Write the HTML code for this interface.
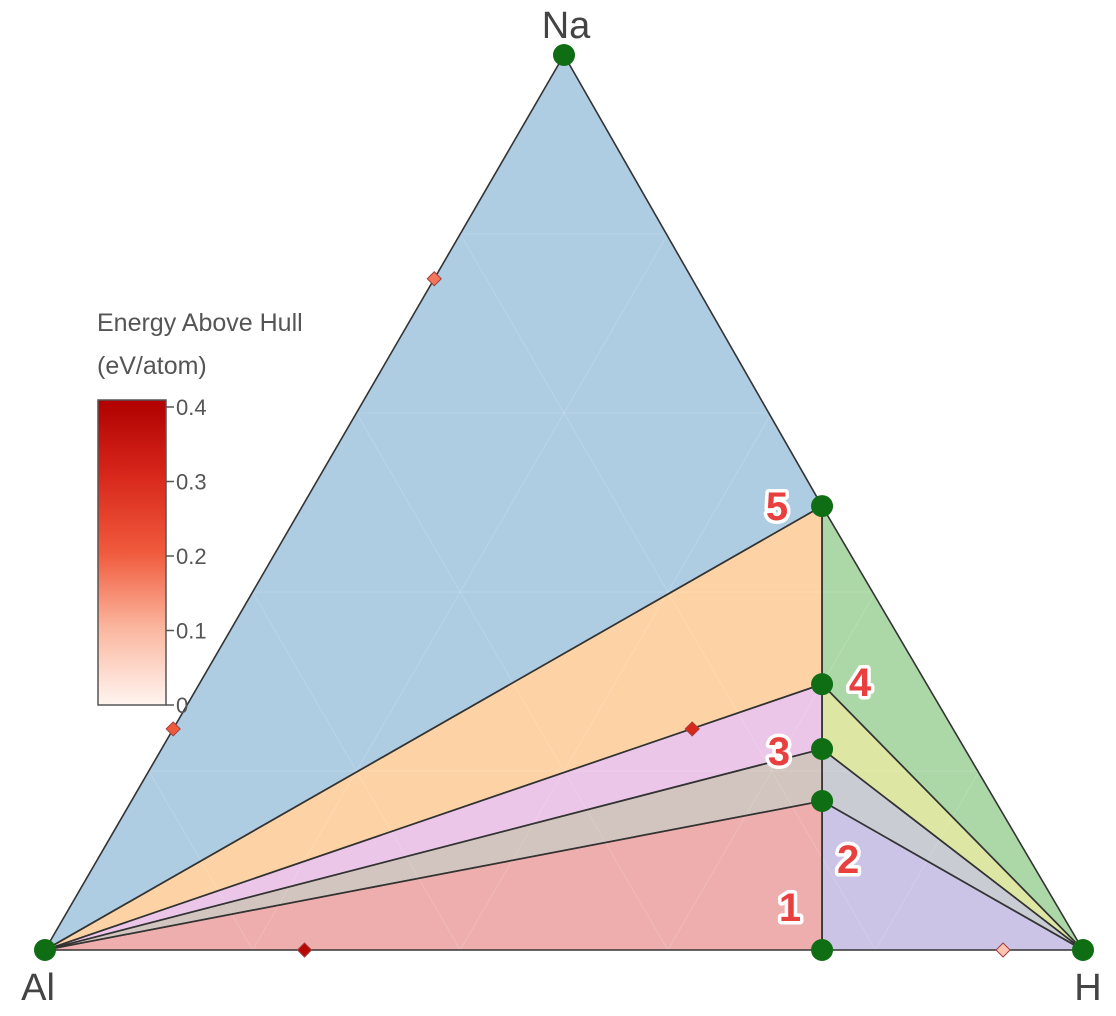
<!DOCTYPE html>
<html><head><meta charset="utf-8">
<style>
html,body{margin:0;padding:0;background:#fff;}
svg{display:block;font-family:"Liberation Sans","DejaVu Sans",sans-serif;}
.lbl{font-size:40px;font-weight:bold;fill:#e8403f;stroke:#fff;stroke-width:7px;paint-order:stroke;stroke-linejoin:round;}
</style></head>
<body>
<svg id="chart" width="1116" height="1016" viewBox="0 0 1116 1016" xmlns="http://www.w3.org/2000/svg">
<defs>
<linearGradient id="cbg" x1="0" y1="1" x2="0" y2="0">
<stop offset="0" stop-color="#fff5f0"/>
<stop offset="0.25" stop-color="#fbb7a0"/>
<stop offset="0.5" stop-color="#f05a3c"/>
<stop offset="0.75" stop-color="#d8281c"/>
<stop offset="1" stop-color="#b00000"/>
</linearGradient>
</defs>
<g id="regions"></g>
<g id="grid"></g>
<g id="edges"></g>
<g id="marks"></g>
<text x="566" y="38" font-size="38" fill="#444" text-anchor="middle">Na</text>
<text x="38" y="1000" font-size="38" fill="#444" text-anchor="middle">Al</text>
<text x="1088" y="1000" font-size="38" fill="#444" text-anchor="middle">H</text>
<g>
<text x="97" y="331" font-size="25" fill="#555">Energy Above Hull</text>
<text x="97" y="374" font-size="25" fill="#555">(eV/atom)</text>
<rect x="98" y="400" width="68" height="305" fill="url(#cbg)" stroke="#555" stroke-width="1.5"/>
<g id="cbticks"></g>
</g>
</svg>
<script>
const X0=45, XW=1038, Y0=950, YH=895;
function px(na,h){return X0+XW*(h+na/2);}
function py(na){return Y0-YH*na;}

const stableNames=["NaH","Na3AlH6","Na5Al3H14","NaAlH4","AlH3"];
const stableNa=[0.496,0.297,0.2246,0.1665,0];
const stableH=[0.5006,0.6001,0.6363,0.6654,0.7486];
const stableLabels=["5","4","3","2","1"];

const unstableNa=[0.75,0.247,0.247,0,0];
const unstableH=[0,0,0.5,0.25,0.923];
const unstableE=[0.17,0.2,0.3,0.38,0.08];

const cbTicks=[0,0.1,0.2,0.3,0.4];

const NS="http://www.w3.org/2000/svg";
function mk(tag,attrs,parent){const e=document.createElementNS(NS,tag);for(const k in attrs)e.setAttribute(k,attrs[k]);parent.appendChild(e);return e;}

const Al=[px(0,0),py(0)], H=[px(0,1),py(0)], Na=[px(1,0),py(1)];
const S=stableNa.map((n,i)=>[px(n,stableH[i]),py(n)]);

const facets=[
 {name:"facet-al-na-nah",pts:[Al,Na,S[0]],c:"#aecde3"},
 {name:"facet-al-nah-na3alh6",pts:[Al,S[0],S[1]],c:"#fdd3a5"},
 {name:"facet-al-na3alh6-p3",pts:[Al,S[1],S[2]],c:"#ebc6e8"},
 {name:"facet-al-p3-naalh4",pts:[Al,S[2],S[3]],c:"#d2c4be"},
 {name:"facet-al-naalh4-alh3",pts:[Al,S[3],S[4]],c:"#eeaeae"},
 {name:"facet-nah-h-na3alh6",pts:[S[0],H,S[1]],c:"#acd8a8"},
 {name:"facet-na3alh6-h-p3",pts:[S[1],H,S[2]],c:"#dde6a2"},
 {name:"facet-p3-h-naalh4",pts:[S[2],H,S[3]],c:"#c9ccd2"},
 {name:"facet-naalh4-h-alh3",pts:[S[3],H,S[4]],c:"#cbc4e6"}
];
const rg=document.getElementById('regions');
const eg=document.getElementById('edges');
facets.forEach(f=>{
 const p=mk('polygon',{points:f.pts.map(q=>q.join(',')).join(' '),fill:f.c},rg);
 
 
 const e=mk('polygon',{points:f.pts.map(q=>q.join(',')).join(' '),fill:"none",stroke:"#333","stroke-width":1.6,"stroke-linejoin":"round"},eg);
 
 
});
const gg=document.getElementById('grid');
for(let k=1;k<5;k++){const t=k/5;
 [[[t,0],[t,1-t]],[[0,t],[1-t,t]],[[0,1-t],[1-t,0]]].forEach(([a,b])=>{
  const l=mk('line',{x1:px(a[0],a[1]),y1:py(a[0]),x2:px(b[0],b[1]),y2:py(b[0]),stroke:"#fff","stroke-opacity":0.15,"stroke-width":1},gg);
  
  
 });
}
function ecol(v){const stops=[[0,[255,245,240]],[0.1,[251,183,160]],[0.2,[240,90,60]],[0.3,[216,40,28]],[0.4,[176,0,0]]];
 v=Math.max(0,Math.min(0.4,v));for(let i=1;i<stops.length;i++){if(v<=stops[i][0]){const a=stops[i-1],b=stops[i],t=(v-a[0])/(b[0]-a[0]);return 'rgb('+a[1].map((c,j)=>Math.round(c+(b[1][j]-c)*t)).join(',')+')';}}return 'rgb(176,0,0)';}
const mg=document.getElementById('marks');
unstableNa.forEach((n,i)=>{const x=px(n,unstableH[i]),y=py(n),r=7;
 const d=mk('polygon',{points:`${x},${y-r} ${x+r},${y} ${x},${y+r} ${x-r},${y}`,fill:ecol(unstableE[i]),stroke:"#a04040","stroke-width":1},mg);
 
 
});
S.forEach((p,i)=>{
 const c=mk('circle',{cx:p[0],cy:p[1],r:11,fill:"#0f6e14"},mg);
 
 
});
[Al,H,Na].forEach((p,i)=>{
 const c=mk('circle',{cx:p[0],cy:p[1],r:11,fill:"#0f6e14"},mg);
 
 
});
const offs=[[-45,0],[38,-2],[-43,2],[26,58],[-32,-43]];
S.forEach((p,i)=>{
 const t=mk('text',{x:p[0]+offs[i][0],y:p[1]+offs[i][1]+14,"text-anchor":"middle",class:"lbl"},mg);
 t.textContent=stableLabels[i];
 
 
});
const cg=document.getElementById('cbticks');
cbTicks.forEach(v=>{const y=705-(v/0.4)*298;
 const l=mk('line',{x1:166,y1:y,x2:174,y2:y,stroke:"#555","stroke-width":1.5},cg);
 
 
 const t=mk('text',{x:176,y:y+8,"font-size":22,fill:"#555"},cg);
 t.textContent=v===0?"0":v.toFixed(1);
 
 
});
</script>
</body></html>
